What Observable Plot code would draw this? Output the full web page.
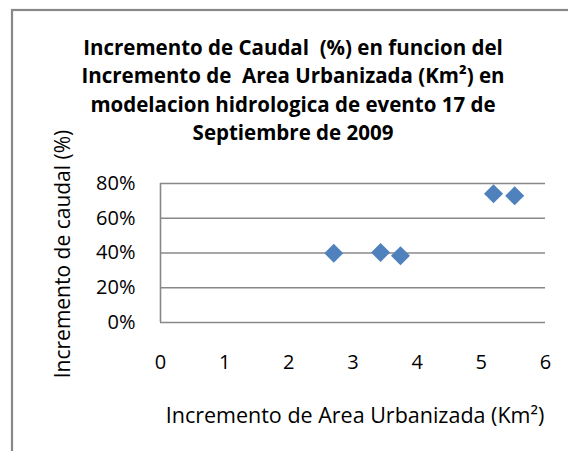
<!DOCTYPE html>
<html>
<head>
<meta charset="utf-8">
<script src="https://cdn.jsdelivr.net/npm/d3@7"></script>
<script src="https://cdn.jsdelivr.net/npm/@observablehq/plot@0.6"></script>
<style>
  html, body { margin: 0; padding: 0; background: #fff; }
  svg { display: block; }
</style>
</head>
<body>
<div id="chart"></div>
<script>
const areaKm2 = [2.70, 3.43, 3.74, 5.19, 5.52];
const caudalPct = [0.399, 0.403, 0.384, 0.741, 0.729];
const yTicks = [0, 0.2, 0.4, 0.6, 0.8];
const xTicks = [0, 1, 2, 3, 4, 5, 6];
const titleLines = [
  "Incremento de Caudal  (%) en funcion del",
  "Incremento de  Area Urbanizada (Km²) en",
  "modelacion hidrologica de evento 17 de",
  "Septiembre de 2009"
];
const xLabel = "Incremento de Area Urbanizada (Km²)";
const yLabel = "Incremento de caudal (%)";

const data = areaKm2.map((x, i) => ({x, y: caudalPct[i]}));
const font = "'Open Sans', sans-serif";

const chart = Plot.plot({
  width: 568,
  height: 451,
  marginLeft: 160,
  marginRight: 23,
  marginTop: 183,
  marginBottom: 129,
  style: {fontFamily: font, fontSize: "20px", color: "#000", background: "#fff", overflow: "visible"},
  x: {domain: [0, 6], label: null},
  y: {domain: [0, 0.8], label: null},
  marks: [
    Plot.ruleY(yTicks, {stroke: "#888", strokeWidth: 1.6}),
    Plot.ruleX([0], {y1: 0, y2: 0.8, stroke: "#888", strokeWidth: 1.6}),
    Plot.axisX({ticks: xTicks, tickSize: 0, tickPadding: 32, fontSize: 20, tickFormat: d => String(d), label: null}),
    Plot.axisY({ticks: yTicks, tickSize: 0, tickPadding: 25, fontSize: 20, tickFormat: d => Math.round(d * 100) + "%", label: null}),
    Plot.dot(data, {x: "x", y: "y", symbol: "square", rotate: 45, r: 7.6, fill: "#4F81BD", stroke: "none"})
  ]
});

const svg = d3.select(chart);

svg.insert("rect", ":first-child")
  .attr("x", 12).attr("y", 10).attr("width", 700).attr("height", 600)
  .attr("fill", "#fff").attr("stroke", "#888").attr("stroke-width", 2.2);

const tg = svg.append("g").attr("font-family", font).attr("font-weight", "bold").attr("font-size", 20.5).attr("text-anchor", "middle").attr("fill", "#000");
titleLines.forEach((t, i) => {
  tg.append("text").attr("x", 293).attr("y", 55 + i * 28.3).text(t);
});

svg.append("text")
  .attr("font-family", font).attr("font-size", 21).attr("text-anchor", "middle").attr("fill", "#000")
  .attr("transform", "translate(70,254) rotate(-90)")
  .text(yLabel);

svg.append("text")
  .attr("font-family", font).attr("font-size", 21.5).attr("text-anchor", "middle").attr("fill", "#000")
  .attr("x", 355).attr("y", 423)
  .text(xLabel);

document.getElementById("chart").appendChild(chart);
</script>
</body>
</html>
